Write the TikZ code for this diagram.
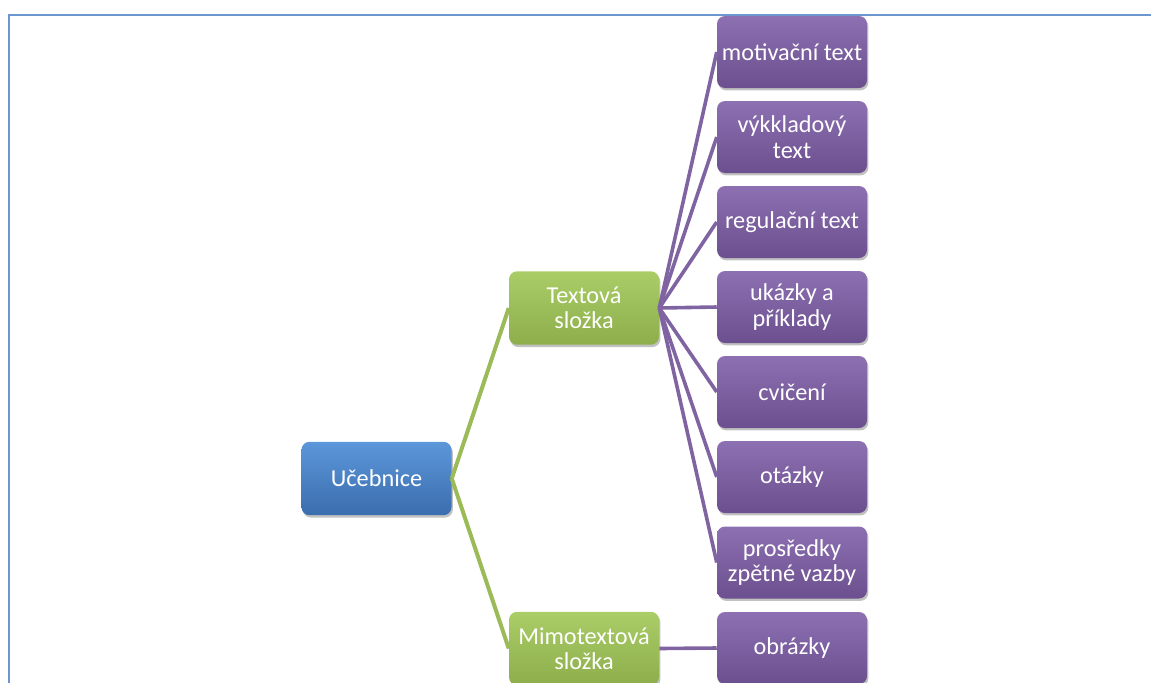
\documentclass[tikz,border=0pt]{standalone}
\usepackage{fontspec}
\setmainfont{Carlito}
\usetikzlibrary{shadows}
\definecolor{frameblue}{HTML}{6B96CF}
\definecolor{bluetop}{HTML}{5C97DA}
\definecolor{bluebot}{HTML}{3A6DAE}
\definecolor{greentop}{HTML}{AACD68}
\definecolor{greenbot}{HTML}{8DAE4B}
\definecolor{purptop}{HTML}{8C70B2}
\definecolor{purpbot}{HTML}{6C4F8E}
\definecolor{gline}{HTML}{9BBB59}
\definecolor{pline}{HTML}{8064A2}
\tikzset{
  box/.style={rounded corners=6pt, minimum width=112.5pt, minimum height=55pt,
    inner sep=2pt, align=center, text=white,
    font=\fontsize{18.2}{19}\selectfont,
    drop shadow={shadow xshift=1pt, shadow yshift=-1.8pt, opacity=0.35, fill=black!70}},
  rootbox/.style={box, top color=bluetop, bottom color=bluebot},
  midbox/.style={box, top color=greentop, bottom color=greenbot},
  leafbox/.style={box, minimum height=54pt, top color=purptop, bottom color=purpbot},
  glink/.style={draw=gline, line width=3pt},
  plink/.style={draw=pline, line width=2.7pt}
}
\begin{document}
\begin{tikzpicture}[x=0.75pt, y=-0.75pt]
\clip (0,0) rectangle (1151,682);
\useasboundingbox (0,0) rectangle (1151,682);
\draw[frameblue, line width=2pt] (9,15) rectangle (1180,700);

\node[rootbox] (uc) at (376.5,478.5) {Učebnice};
\node[midbox] (tx) at (584,308) {Textová\\složka};
\node[midbox] (mt) at (584,648.5) {Mimotextová\\složka};

\node[leafbox] (l1) at (792,52) {motivační text};
\node[leafbox] (l2) at (792,137) {výkkladový\\text};
\node[leafbox] (l3) at (792,222) {regulační text};
\node[leafbox] (l4) at (792,307) {ukázky a\\příklady};
\node[leafbox] (l5) at (792,392) {cvičení};
\node[leafbox] (l6) at (792,477) {otázky};
\node[leafbox] (l7) at (792,562.5) {prosředky\\zpětné vazby};
\node[leafbox] (l8) at (792,648) {obrázky};

\draw[glink] (uc.east) -- (tx.west);
\draw[glink] (uc.east) -- (mt.west);
\foreach \n in {l1,l2,l3,l4,l5,l6,l7}
  \draw[plink] (tx.east) -- (\n.west);
\draw[plink] (mt.east) -- (l8.west);
\end{tikzpicture}
\end{document}
